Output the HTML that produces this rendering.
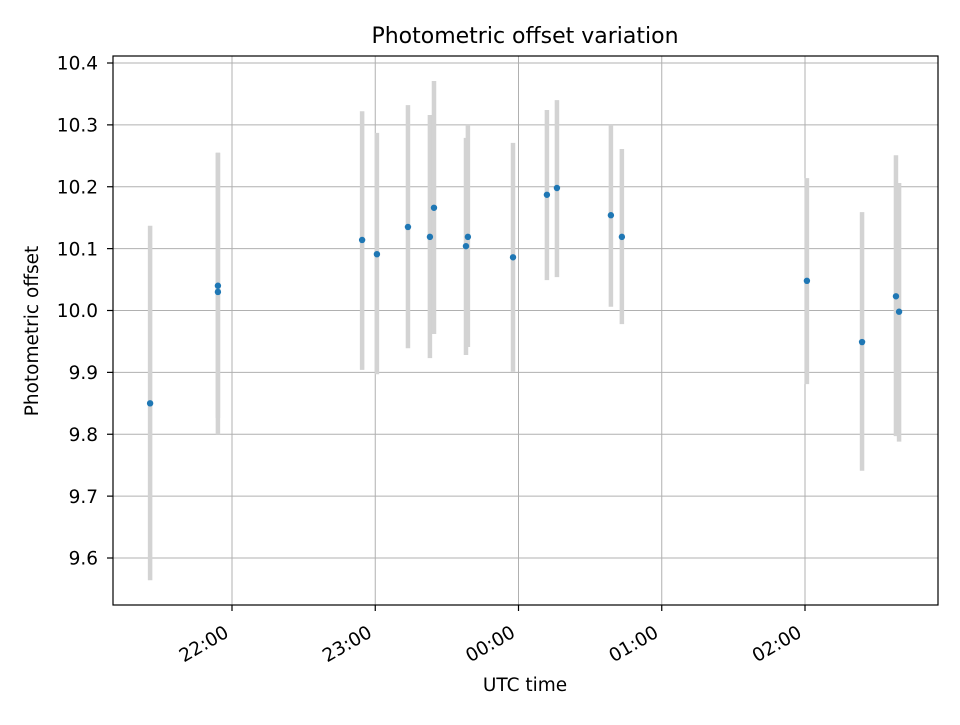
<!DOCTYPE html>
<html><head><meta charset="utf-8"><style>
body{margin:0;background:#fff;}
svg text{font-family:"DejaVu Sans","Liberation Sans",sans-serif;fill:#000;}
</style></head><body>
<svg id="chart" width="960" height="720" xmlns="http://www.w3.org/2000/svg">
<rect width="960" height="720" fill="#fff"/>
<g id="grid"></g><g id="bars"></g><g id="pts"></g>
<rect x="113" y="56" width="825" height="549" fill="none" stroke="#000" stroke-width="1.2"/>
<g id="axes"></g>
<text x="525" y="43" font-size="22" text-anchor="middle">Photometric offset variation</text>
<text x="525" y="691" font-size="18.5" text-anchor="middle">UTC time</text>
<text transform="translate(38,331) rotate(-90)" font-size="18.5" text-anchor="middle">Photometric offset</text>
</svg>
<script>
// minutes after 22:00 UTC
const times=[-34.3,-5.9,-5.9,54.5,60.7,73.7,82.9,84.6,98.0,98.8,117.7,131.9,136.1,158.7,163.3,240.8,263.9,278.1,279.4];
const offsets=[9.850,10.040,10.030,10.114,10.091,10.135,10.119,10.166,10.104,10.119,10.086,10.187,10.198,10.154,10.119,10.048,9.949,10.023,9.998];
const errTop=[10.137,10.255,10.255,10.322,10.287,10.332,10.316,10.371,10.279,10.300,10.271,10.324,10.340,10.300,10.261,10.214,10.159,10.251,10.206];
const errBottom=[9.564,9.800,9.826,9.904,9.897,9.939,9.923,9.962,9.928,9.941,9.901,10.049,10.054,10.006,9.978,9.881,9.741,9.797,9.788];
const xTickMinutes=[0,60,120,180,240];
const xTickLabels=["22:00","23:00","00:00","01:00","02:00"];
const yTicks=[9.6,9.7,9.8,9.9,10.0,10.1,10.2,10.3,10.4];
const yTickLabels=["9.6","9.7","9.8","9.9","10.0","10.1","10.2","10.3","10.4"];

const X=m=>232+m*143.25/60;
const Y=v=>558-(v-9.6)*618.75;
const NS="http://www.w3.org/2000/svg";
function mk(t,a,p){const e=document.createElementNS(NS,t);for(const k in a)e.setAttribute(k,a[k]);p.appendChild(e);return e;}
const grid=document.getElementById('grid'),axes=document.getElementById('axes'),bars=document.getElementById('bars'),pts=document.getElementById('pts');
xTickMinutes.forEach((m,i)=>{
  const x=X(m);
  const g=mk('line',{x1:x,x2:x,y1:56,y2:605,stroke:'#b0b0b0','stroke-width':1},grid);
  
  
  const t=mk('line',{x1:x,x2:x,y1:605,y2:611,stroke:'#000','stroke-width':1.2},axes);
  
  
  const ax=x-2, ay=636;
  const l=mk('text',{x:ax,y:ay,'font-size':18.5,'text-anchor':'end',transform:`rotate(-30 ${ax} ${ay})`},axes);
  l.textContent=xTickLabels[i];
  
  
});
yTicks.forEach((v,i)=>{
  const y=Y(v);
  const g=mk('line',{x1:113,x2:938,y1:y,y2:y,stroke:'#b0b0b0','stroke-width':1},grid);
  
  
  const t=mk('line',{x1:107,x2:113,y1:y,y2:y,stroke:'#000','stroke-width':1.2},axes);
  
  
  const l=mk('text',{x:98,y:y+6.7,'font-size':18.5,'text-anchor':'end'},axes);
  l.textContent=yTickLabels[i];
  
  
});
times.forEach((m,i)=>{
  const x=X(m);
  const b=mk('line',{x1:x,x2:x,y1:Y(errTop[i]),y2:Y(errBottom[i]),stroke:'#d3d3d3','stroke-width':4.5},bars);
  
  
});
times.forEach((m,i)=>{
  const p=mk('circle',{cx:X(m),cy:Y(offsets[i]),r:3.2,fill:'#1f77b4'},pts);
  
  
});
</script>
</body></html>
